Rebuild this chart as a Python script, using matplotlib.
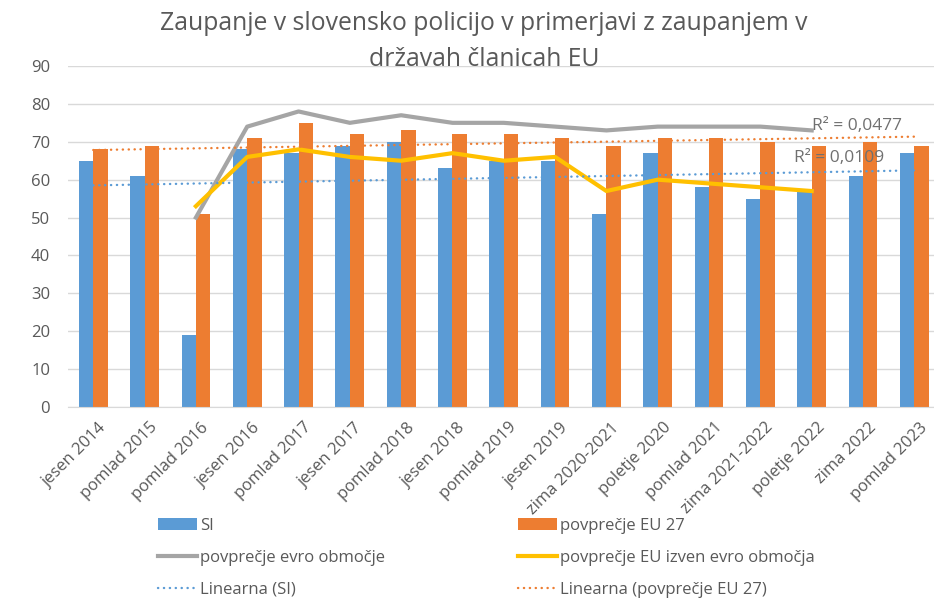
import numpy as np
import matplotlib
matplotlib.use("Agg")
import matplotlib.pyplot as plt
import matplotlib.transforms as mtransforms

plt.rcParams['font.family'] = ['Open Sans', 'DejaVu Sans']

periods = ['jesen 2014', 'pomlad 2015', 'pomlad 2016', 'jesen 2016', 'pomlad 2017',
           'jesen 2017', 'pomlad 2018', 'jesen 2018', 'pomlad 2019', 'jesen 2019',
           'zima 2020-2021', 'poletje 2020', 'pomlad 2021', 'zima 2021-2022',
           'poletje 2022', 'zima 2022', 'pomlad 2023']
si = [65, 61, 19, 68, 67, 69, 70, 63, 65, 65, 51, 67, 58, 55, 57, 61, 67]
eu27 = [68, 69, 51, 71, 75, 72, 73, 72, 72, 71, 69, 71, 71, 70, 69, 70, 69]
# euro area / non-euro averages only from pomlad 2016 to poletje 2022
evro = [50, 74, 78, 75, 77, 75, 75, 74, 73, 74, 74, 74, 73]
izven = [53, 66, 68, 66, 65, 67, 65, 66, 57, 60, 59, 58, 57]
line_start = 2

grey_txt = '#595959'
c_si = '#5B9BD5'
c_eu = '#ED7D31'
c_evro = '#A5A5A5'
c_izven = '#FFC000'

fig = plt.figure(figsize=(9.34, 6.05), dpi=100)
ax = fig.add_axes([67.6/934, 1-407/605, 872.4/934, 341/605])

x = np.arange(len(periods))
w = 0.28
ax.bar(x - w/2, si, w, color=c_si, label='SI', zorder=2)
ax.bar(x + w/2, eu27, w, color=c_eu, label='povprečje EU 27', zorder=2)

xl = np.arange(line_start, line_start + len(evro))
ax.plot(xl, evro, color=c_evro, lw=3, label='povprečje evro območje', zorder=3)
ax.plot(xl, izven, color=c_izven, lw=3, label='povprečje EU izven evro območja', zorder=3)

# linear trendlines (Excel style, round dots)
p_si = np.polyfit(x, si, 1)
p_eu = np.polyfit(x, eu27, 1)
dots = (0, (0.1, 2.4))
ax.plot(x, np.polyval(p_si, x), color=c_si, lw=1.7, ls=dots, dash_capstyle='round',
        label='Linearna (SI)', zorder=4)
ax.plot(x, np.polyval(p_eu, x), color=c_eu, lw=1.7, ls=dots, dash_capstyle='round',
        label='Linearna (povprečje EU 27)', zorder=4)

ax.text(14.0, 73.2, 'R² = 0,0477', fontsize=12.5, color='#707070', zorder=5)
ax.text(13.65, 64.6, 'R² = 0,0109', fontsize=12.5, color='#707070', zorder=5)

ax.set_xlim(-0.5, len(periods) - 0.5)
ax.set_ylim(0, 90)
ax.set_yticks(range(0, 91, 10))
ax.yaxis.grid(True, color='#D9D9D9', lw=1, zorder=0)
for s in ['top', 'right', 'left']:
    ax.spines[s].set_visible(False)
ax.spines['bottom'].set_color('#D9D9D9')
ax.tick_params(axis='both', length=0, colors=grey_txt)
ax.tick_params(axis='x', labelsize=12, pad=9)
ax.tick_params(axis='y', labelsize=12, pad=12.5)
ax.set_xticks(x)
ax.set_xticklabels(periods, rotation=45, ha='right', rotation_mode='anchor')
shift = mtransforms.ScaledTranslation(5/100, 0, fig.dpi_scale_trans)
for lab in ax.get_xticklabels():
    lab.set_transform(lab.get_transform() + shift)

fig.suptitle('Zaupanje v slovensko policijo v primerjavi z zaupanjem v\ndržavah članicah EU',
             x=484/934, y=0.982, fontsize=17.8, color=grey_txt, linespacing=1.6)

h, l = ax.get_legend_handles_labels()
h = [h[i] for i in [4, 0, 2, 5, 1, 3]]
l = [l[i] for i in [4, 0, 2, 5, 1, 3]]
fig.legend(h, l, ncol=2, loc='lower left', bbox_to_anchor=(143/934, -0.013),
           frameon=False, fontsize=12, labelcolor=grey_txt, handlelength=2.35,
           handletextpad=0.15, columnspacing=8.0, labelspacing=0.96)

fig.savefig('out.png', dpi=100)
